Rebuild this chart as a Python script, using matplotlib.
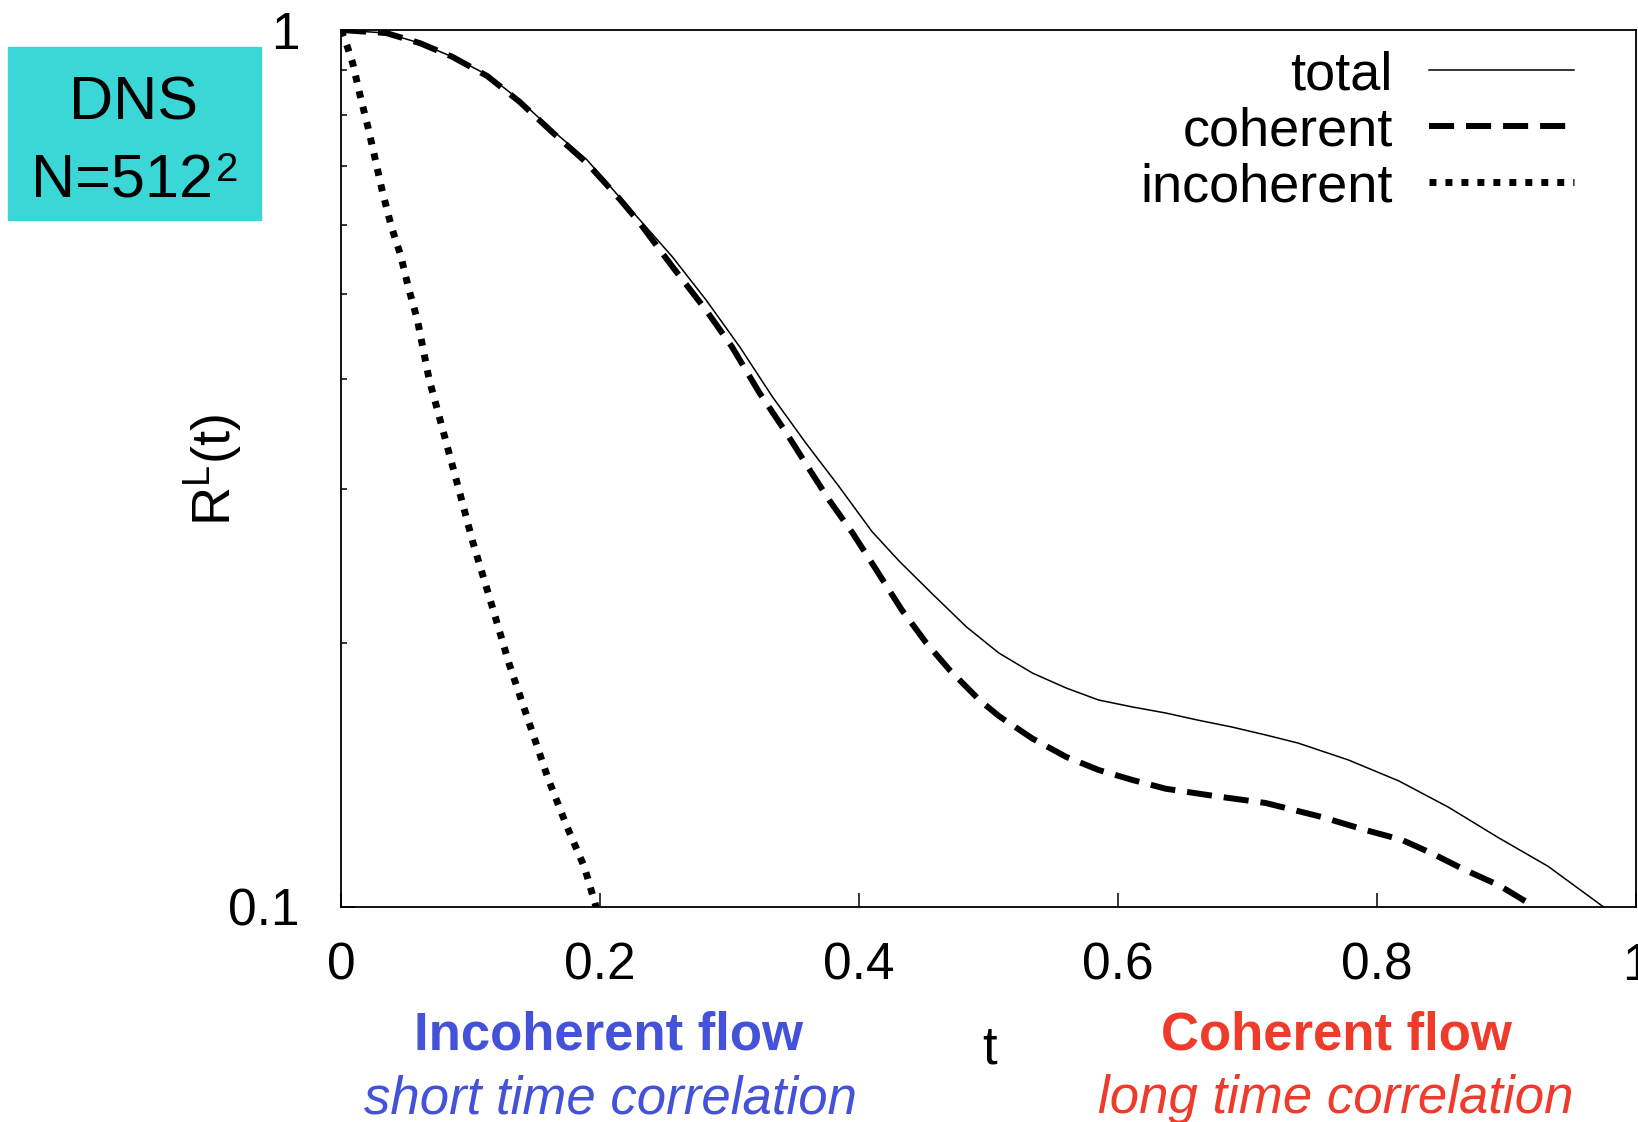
import matplotlib
matplotlib.use('Agg')
import matplotlib.pyplot as plt
from matplotlib.patches import Rectangle
from matplotlib.ticker import FixedLocator, NullFormatter

# Lagrangian autocorrelation R^L(t)
t_total = [0, 0.035, 0.061, 0.086, 0.113, 0.138, 0.163, 0.190, 0.215, 0.2305,
           0.256, 0.282, 0.308, 0.333, 0.359, 0.385, 0.410, 0.431, 0.456, 0.483,
           0.508, 0.534, 0.560, 0.585, 0.611, 0.637, 0.662, 0.688, 0.714, 0.739,
           0.778, 0.817, 0.855, 0.894, 0.932, 0.975]
r_total = [1.0, 0.992, 0.966, 0.932, 0.889, 0.832, 0.769, 0.711, 0.645, 0.608,
           0.551, 0.492, 0.435, 0.382, 0.338, 0.301, 0.268, 0.248, 0.228, 0.2086,
           0.1948, 0.1848, 0.1777, 0.1722, 0.1691, 0.1664, 0.1633, 0.1604, 0.1571, 0.1538,
           0.1471, 0.1392, 0.1300, 0.1199, 0.1113, 0.100]

t_coh = [0, 0.035, 0.061, 0.086, 0.113, 0.138, 0.163, 0.190, 0.215, 0.2305,
         0.256, 0.282, 0.302, 0.323, 0.344, 0.362, 0.377, 0.395, 0.410, 0.433,
         0.452, 0.470, 0.493, 0.508, 0.534, 0.560, 0.585, 0.611, 0.637, 0.675,
         0.714, 0.757, 0.791, 0.819, 0.842, 0.868, 0.894, 0.922]
r_coh = [1.0, 0.992, 0.966, 0.932, 0.886, 0.828, 0.765, 0.705, 0.642, 0.603,
         0.537, 0.479, 0.435, 0.386, 0.347, 0.315, 0.291, 0.267, 0.2467, 0.2182,
         0.2000, 0.1863, 0.1722, 0.1651, 0.1556, 0.1483, 0.1433, 0.1396, 0.1364, 0.1338,
         0.1314, 0.1267, 0.1224, 0.1193, 0.1152, 0.1102, 0.1059, 0.100]

t_inc = [0, 0.005, 0.009, 0.015, 0.021, 0.026, 0.032, 0.039, 0.046, 0.052,
         0.059, 0.068, 0.089, 0.102, 0.116, 0.130, 0.146, 0.160, 0.174, 0.188,
         0.197]
r_inc = [1.0, 0.956, 0.917, 0.839, 0.773, 0.717, 0.654, 0.596, 0.554, 0.509,
         0.467, 0.400, 0.307, 0.260, 0.222, 0.189, 0.161, 0.140, 0.124, 0.111,
         0.100]

x_ticks = [0, 0.2, 0.4, 0.6, 0.8, 1.0]
x_tick_labels = ['0', '0.2', '0.4', '0.6', '0.8', '1']
y_ticks = [0.1, 1]
y_tick_labels = ['0.1', '1']
y_minor = [0.2, 0.3, 0.4, 0.5, 0.6, 0.7, 0.8, 0.9]

plt.rcParams['font.family'] = ['Liberation Sans', 'DejaVu Sans']
plt.rcParams['mathtext.fontset'] = 'custom'
plt.rcParams['mathtext.rm'] = 'Liberation Sans'
plt.rcParams['mathtext.it'] = 'Liberation Sans:italic'

W, H = 1638, 1122
fig = plt.figure(figsize=(W / 100, H / 100), dpi=100)
ax = fig.add_axes([341 / W, 1 - 907 / H, 1295 / W, 877 / H])

ax.plot(t_total, r_total, color='black', lw=1.1, label='total')
ax.plot(t_coh, r_coh, color='black', lw=4.3, ls=(0, (4.2, 2.0)), label='coherent')
ax.plot(t_inc, r_inc, color='black', lw=5, ls=(0, (1, 1.3)), label='incoherent')

ax.set_yscale('log')
ax.set_xlim(0, 1)
ax.set_ylim(0.1, 1)
ax.set_xticks(x_ticks, labels=x_tick_labels)
ax.set_yticks(y_ticks, labels=y_tick_labels)
ax.yaxis.set_minor_locator(FixedLocator(y_minor))
ax.yaxis.set_minor_formatter(NullFormatter())
ax.xaxis.set_minor_locator(FixedLocator([]))
ax.tick_params(which='major', direction='in', length=10, width=1.1, labelsize=37)
ax.tick_params(axis='x', pad=25)
ax.tick_params(axis='y', pad=30)
ax.tick_params(which='minor', direction='in', length=4, width=1.1)
for s in ax.spines.values():
    s.set_linewidth(1.3)

ax.legend(loc='upper right', bbox_to_anchor=(0.952, 0.977), borderaxespad=0,
          borderpad=0, frameon=False, markerfirst=False, handlelength=2.68,
          handletextpad=0.66, labelspacing=0.11, fontsize=39)

# axis labels
fig.text(214 / W, 1 - 470 / H, r'R$^{\mathrm{L}}$(t)', rotation=90,
         ha='center', va='center', fontsize=39)
fig.text(990 / W, 1 - 1063 / H, 't', ha='center', va='baseline', fontsize=38)

# DNS box
fig.patches.append(Rectangle((8 / W, 1 - 220 / H), 253 / W, 173 / H,
                             transform=fig.transFigure, color='#3BD6D6', zorder=0))
fig.text(133 / W, 1 - 120 / H, 'DNS', ha='center', va='baseline', fontsize=44)
fig.text(213 / W, 1 - 197 / H, 'N=512', ha='right', va='baseline', fontsize=44)
fig.text(216 / W, 1 - 181 / H, '2', ha='left', va='baseline', fontsize=29)

# annotations under the axis
blue = '#4451D9'
red = '#EE3B2B'
fig.text(608 / W, 1 - 1050 / H, 'Incoherent flow', color=blue, fontweight='bold',
         ha='center', va='baseline', fontsize=38)
fig.text(610 / W, 1 - 1113 / H, 'short time correlation', color=blue, style='italic',
         ha='center', va='baseline', fontsize=38)
fig.text(1336 / W, 1 - 1050 / H, 'Coherent flow', color=red, fontweight='bold',
         ha='center', va='baseline', fontsize=38)
fig.text(1336 / W, 1 - 1113 / H, 'long time correlation', color=red, style='italic',
         ha='center', va='baseline', fontsize=38)

fig.savefig('out.png', dpi=100)
